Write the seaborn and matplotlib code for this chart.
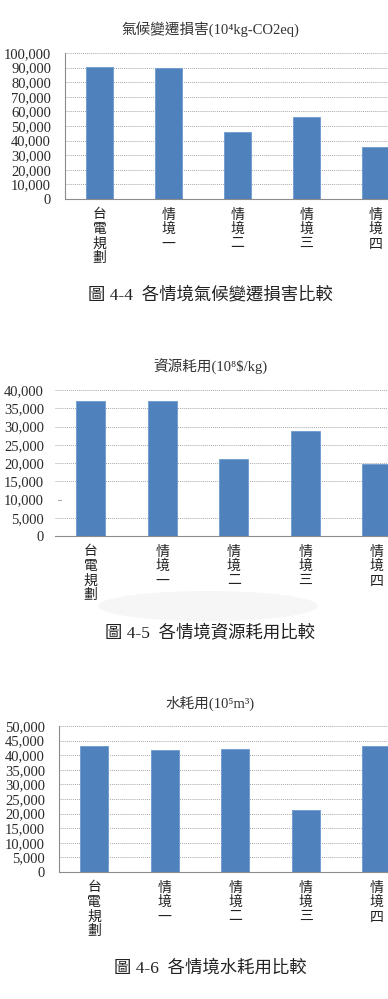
import matplotlib
matplotlib.use("Agg")
import matplotlib.pyplot as plt
import seaborn as sns
import pandas as pd
from matplotlib.ticker import FuncFormatter, MultipleLocator
from matplotlib.patches import Ellipse

sns.set_theme(style="white")
plt.rcParams['font.family'] = ['Liberation Serif', 'DejaVu Serif', 'Noto Sans CJK TC']

# ---- data ----
categories = ['台電規劃', '情境一', '情境二', '情境三', '情境四']
climate_damage = [90400, 89800, 45700, 56000, 35500]
resource_use = [36900, 36900, 21100, 28900, 19600]
water_use = [43300, 41700, 42000, 21200, 43200]

titles = ['氣候變遷損害(10⁴kg-CO2eq)', '資源耗用(10⁸$/kg)', '水耗用(10⁵m³)']
captions = ['圖 4-4  各情境氣候變遷損害比較', '圖 4-5  各情境資源耗用比較', '圖 4-6  各情境水耗用比較']
y_max = [100000, 40000, 50000]
y_step = [10000, 5000, 5000]

W, H = 388, 999
fig = plt.figure(figsize=(W / 100, H / 100), dpi=100)
fig.patch.set_facecolor('white')

BAR = '#4F81BD'
GRID = '#a8a8a8'
SPINE = '#8c8c8c'

# layout in pixels: (left, spacing, top, bottom, title_y, caption_y, show_left_spine)
layouts = [
    (65, 69.0, 53, 199, 29, 295, True),
    (55, 71.5, 390, 536, 367, 633, False),
    (59, 70.5, 726, 872, 703, 968, True),
]
series = [climate_damage, resource_use, water_use]

def px2fig(x, y):
    return x / W, 1 - y / H

for i, (vals, (left, sp, top, bot, ty, cy, lspine)) in enumerate(zip(series, layouts)):
    width = sp * 5
    ax = fig.add_axes([left / W, 1 - bot / H, width / W, (bot - top) / H])
    df = pd.DataFrame({'cat': categories, 'val': vals})
    sns.barplot(data=df, x='cat', y='val', ax=ax, color=BAR, width=0.4,
                saturation=1, edgecolor='#6f9ad0', linewidth=0.6)
    ax.set_xlim(-0.5, 4.5)
    ax.set_ylim(0, y_max[i])
    ax.yaxis.set_major_locator(MultipleLocator(y_step[i]))
    ax.yaxis.set_major_formatter(FuncFormatter(lambda v, p: f'{int(v):,}'))
    ax.set_xlabel('')
    ax.set_ylabel('')
    # gridlines
    ax.set_axisbelow(True)
    ax.yaxis.grid(True, linestyle=(0, (1, 1)), color=GRID, linewidth=0.7)
    if i == 1:
        # the 10,000 gridline is missing in the reference, only a short stub
        for gl, t in zip(ax.get_ygridlines(), ax.get_yticks()):
            if abs(t - 10000) < 1:
                gl.set_visible(False)
        ax.plot([0.007, 0.017], [10000, 10000], transform=ax.get_yaxis_transform(),
                color=GRID, lw=0.8, clip_on=False)
    for s in ['top', 'right']:
        ax.spines[s].set_visible(False)
    ax.spines['bottom'].set_color(SPINE)
    ax.spines['bottom'].set_linewidth(0.8)
    ax.spines['left'].set_visible(lspine)
    ax.spines['left'].set_color(SPINE)
    ax.spines['left'].set_linewidth(0.8)
    ax.tick_params(axis='y', labelsize=10.5, labelcolor='#2a2a2a',
                   length=3 if lspine else 0, color=SPINE, width=0.8,
                   pad=7 if lspine else 8)
    # category labels stacked vertically
    ax.set_xticks(range(len(categories)))
    ax.set_xticklabels(['\n'.join(c) for c in categories], fontsize=10,
                       color='#222222', linespacing=1.05,
                       family=['Noto Sans CJK TC'])
    ax.tick_params(axis='x', length=0, pad=6)
    ax.set_xticks([k - 0.5 for k in range(6)], minor=True)
    ax.tick_params(axis='x', which='minor', length=4, color=SPINE, width=0.8,
                   direction='out')
    for lab in ax.get_xticklabels():
        lab.set_verticalalignment('top')
    # title and caption
    tx, tyf = px2fig(210, ty)
    fig.text(tx, tyf, titles[i], ha='center', va='center', fontsize=10.5,
             color='#333333')
    cx, cyf = px2fig(210, cy)
    if i == 1:
        ex, ey = px2fig(208, 606)
        fig.patches.append(Ellipse((ex, ey), 220 / W, 30 / H,
                                   transform=fig.transFigure,
                                   facecolor='#f6f6f6', edgecolor='none', zorder=0))
    fig.text(cx, cyf, captions[i], ha='center', va='center', fontsize=12.5,
             color='#222222')

fig.savefig('out.png', dpi=100)
